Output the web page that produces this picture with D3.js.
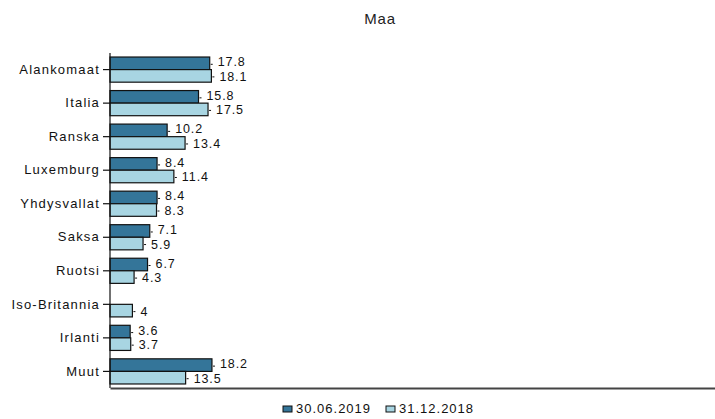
<!DOCTYPE html>
<html>
<head>
<meta charset="utf-8">
<script src="https://cdn.jsdelivr.net/npm/d3@7"></script>
<style>
  body { margin: 0; background: #fff; }
  svg { font-family: "Liberation Sans", Arial, sans-serif; }
</style>
</head>
<body>
<div id="chart"></div>
<script>
const countries = ["Alankomaat", "Italia", "Ranska", "Luxemburg", "Yhdysvallat", "Saksa", "Ruotsi", "Iso-Britannia", "Irlanti", "Muut"];
const seriesNames = ["30.06.2019", "31.12.2018"];
const values2019 = [17.8, 15.8, 10.2, 8.4, 8.4, 7.1, 6.7, null, 3.6, 18.2];
const values2018 = [18.1, 17.5, 13.4, 11.4, 8.3, 5.9, 4.3, 4, 3.7, 13.5];
const colors = ["#347599", "#a8d5e2"];

const W = 715, H = 419;
const margin = { top: 53, right: 0, bottom: 31, left: 110 };

const svg = d3.select("#chart").append("svg")
  .attr("width", W).attr("height", H);

const x = d3.scaleLinear().domain([0, 108]).range([margin.left, W]);
const y = d3.scaleBand().domain(countries)
  .range([margin.top, H - margin.bottom]).paddingInner(0.25).paddingOuter(0.12);
const sub = d3.scaleBand().domain(seriesNames).range([0, y.bandwidth()]);

// title
svg.append("text")
  .attr("x", 380).attr("y", 24)
  .attr("text-anchor", "middle")
  .style("font-size", "15px").style("letter-spacing", "0.8px").attr("fill", "#222")
  .text("Maa");

const rows = countries.map((c, i) => ({ c, vals: [values2019[i], values2018[i]] }));

const g = svg.append("g");
rows.forEach(r => {
  r.vals.forEach((v, k) => {
    if (v == null) return;
    const y0 = y(r.c) + sub(seriesNames[k]);
    const mid = y0 + sub.bandwidth() / 2;
    g.append("rect")
      .attr("x", x(0)).attr("y", y0)
      .attr("width", x(v) - x(0)).attr("height", sub.bandwidth())
      .attr("fill", colors[k]).attr("stroke", "#111").attr("stroke-width", 1.2);
    // small leader mark
    g.append("line")
      .attr("x1", x(v) + 1).attr("x2", x(v) + 3)
      .attr("y1", mid + 1).attr("y2", mid + 1)
      .attr("stroke", "#111").attr("stroke-width", 1);
    g.append("text")
      .attr("x", x(v) + 8)
      .attr("y", mid + (k === 0 ? 3 : 5))
      .style("font-size", "12.5px").style("letter-spacing", "0.9px").attr("fill", "#111")
      .text(d3.format("~g")(v));
  });
});

// y axis
const yAxis = svg.append("g")
  .attr("transform", `translate(${x(0)},0)`)
  .call(d3.axisLeft(y).tickSize(7).tickPadding(3));
yAxis.select(".domain").attr("stroke", "#111").attr("stroke-width", 1.2)
  .attr("d", `M0,${margin.top}V${H - margin.bottom}`);
yAxis.selectAll(".tick line").attr("stroke", "#111").attr("stroke-width", 1.2);
yAxis.selectAll("text").style("font-size", "13px").style("letter-spacing", "1.2px")
  .attr("fill", "#111").attr("font-family", "Liberation Sans, Arial, sans-serif");

// x axis baseline, no ticks
svg.append("g")
  .attr("transform", `translate(0,${H - margin.bottom})`)
  .call(d3.axisBottom(x).tickValues([]).tickSizeOuter(0))
  .select(".domain").attr("stroke", "#444").attr("stroke-width", 2);

// legend
const legend = svg.append("g").attr("transform", "translate(283,413)");
const legendX = [0, 103];
seriesNames.forEach((s, k) => {
  legend.append("rect")
    .attr("x", legendX[k]).attr("y", -7)
    .attr("width", 9).attr("height", 6)
    .attr("fill", colors[k]).attr("stroke", "#111").attr("stroke-width", 1);
  legend.append("text")
    .attr("x", legendX[k] + 13).attr("y", 0)
    .style("font-size", "13px").style("letter-spacing", "1px").attr("fill", "#111")
    .text(s);
});
</script>
</body>
</html>
